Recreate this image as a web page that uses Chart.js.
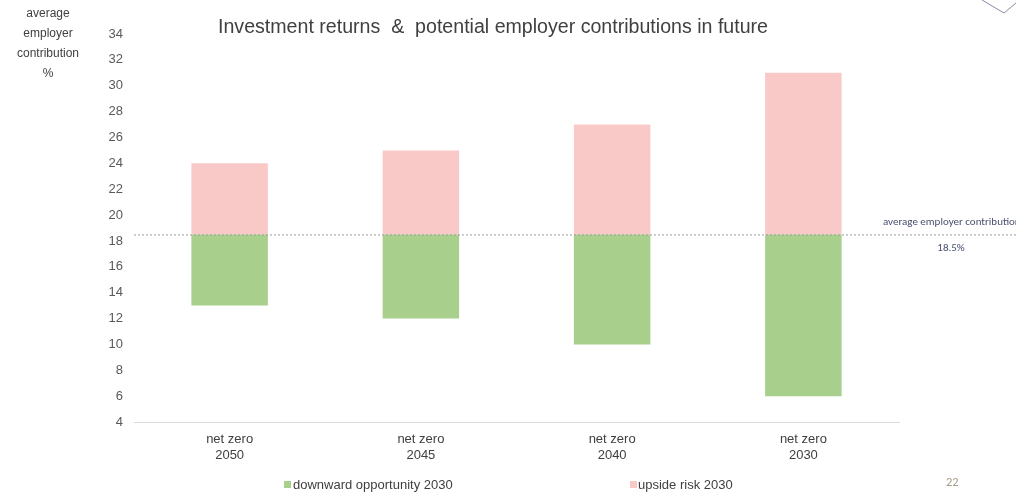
<!DOCTYPE html>
<html>
<head>
<meta charset="utf-8">
<script src="https://cdn.jsdelivr.net/npm/chart.js@4"></script>
<style>
  html, body { margin: 0; padding: 0; background: #fff; }
  #wrap { width: 1016px; height: 492px; position: relative; }
</style>
</head>
<body>
<div id="wrap"><canvas id="grafico" width="1016" height="492"></canvas></div>
<script>
// scenario labels and contribution ranges (%)
var categorias = [['net zero', '2050'], ['net zero', '2045'], ['net zero', '2040'], ['net zero', '2030']];
var minimos = [13, 12, 10, 6];     // downward opportunity
var maximos = [24, 25, 27, 31];    // upside risk
var media = 18.5;                  // average employer contribution
var ticksY = [4, 6, 8, 10, 12, 14, 16, 18, 20, 22, 24, 26, 28, 30, 32, 34];

var verde = '#a9cf8c';
var rosa = '#f9c9c8';
var fonte = 'Arial, "Liberation Sans", sans-serif';

// extra drawing: title, axis caption, dashed average line, legend, page number
var extras = {
    id: 'extras',
    afterDatasetsDraw: function (chart) {
        var ctx = chart.ctx;
        var y = chart.scales.y.getPixelForValue(media);
        ctx.save();
        ctx.strokeStyle = '#9a9a9a';
        ctx.lineWidth = 1;
        ctx.setLineDash([2, 2]);
        ctx.beginPath();
        ctx.moveTo(chart.chartArea.left, y + 0.5);
        ctx.lineTo(1016, y + 0.5);
        ctx.stroke();
        ctx.restore();
    },
    afterDraw: function (chart) {
        var ctx = chart.ctx;
        var y = chart.scales.y.getPixelForValue(media);
        ctx.save();

        // title
        ctx.fillStyle = '#404040';
        ctx.font = '19.6px ' + fonte;
        ctx.textAlign = 'left';
        ctx.textBaseline = 'middle';
        ctx.fillText('Investment returns  &  potential employer contributions in future', 218, 28);

        // y axis caption
        ctx.font = '12px ' + fonte;
        ctx.textAlign = 'center';
        ['average', 'employer', 'contribution', '%'].forEach(function (t, i) {
            ctx.fillText(t, 48, 14 + i * 20);
        });

        // average line labels
        ctx.fillStyle = '#4a4f6e';
        ctx.font = '11px Carlito, "Liberation Sans", sans-serif';
        ctx.textAlign = 'left';
        ctx.fillText('average employer contribution', 883, y - 12);
        ctx.textAlign = 'center';
        ctx.fillText(media + '%', 951, y + 14);

        // legend
        ctx.font = '13px ' + fonte;
        ctx.textAlign = 'left';
        ctx.fillStyle = verde;
        ctx.fillRect(284, 481, 7, 7);
        ctx.fillStyle = '#404040';
        ctx.fillText('downward opportunity 2030', 293, 485);
        ctx.fillStyle = rosa;
        ctx.fillRect(630, 481, 7, 7);
        ctx.fillStyle = '#404040';
        ctx.fillText('upside risk 2030', 638, 485);

        // page number
        ctx.fillStyle = '#a59a88';
        ctx.font = '12.5px Carlito, "Liberation Sans", sans-serif';
        ctx.fillText('22', 946, 483);

        // corner decoration
        ctx.strokeStyle = '#8a8aa8';
        ctx.lineWidth = 1;
        ctx.beginPath();
        ctx.moveTo(982, 0);
        ctx.lineTo(1004, 13);
        ctx.lineTo(1016, 3);
        ctx.stroke();
        ctx.restore();
    }
};

var dados = {
    labels: categorias,
    datasets: [{
        label: 'downward opportunity 2030',
        backgroundColor: verde,
        data: minimos.map(function (v) { return [v, media]; })
    }, {
        label: 'upside risk 2030',
        backgroundColor: rosa,
        data: maximos.map(function (v) { return [media, v]; })
    }]
};

var ctx = document.querySelector('#grafico').getContext('2d');
var grafico = new Chart(ctx, {
    type: 'bar',
    data: dados,
    plugins: [extras],
    options: {
        responsive: false,
        animation: false,
        barPercentage: 0.4,
        categoryPercentage: 1,
        layout: { padding: { top: 34, right: 117, left: 0, bottom: 0 } },
        plugins: {
            legend: { display: false },
            tooltip: { enabled: false }
        },
        scales: {
            x: {
                stacked: true,
                grid: { display: false },
                border: { color: '#d9d9d9' },
                ticks: {
                    color: '#404040',
                    font: { family: fonte, size: 13 },
                    padding: 2,
                    maxRotation: 0
                },
                afterFit: function (s) { s.height = 70; }
            },
            y: {
                min: 4,
                max: 34,
                grid: { display: false },
                border: { display: false },
                afterBuildTicks: function (s) {
                    s.ticks = ticksY.map(function (v) { return { value: v }; });
                },
                ticks: {
                    color: '#595959',
                    font: { family: fonte, size: 13 },
                    padding: 3
                },
                afterFit: function (s) { s.width = 134; }
            }
        }
    }
});
</script>
</body>
</html>
